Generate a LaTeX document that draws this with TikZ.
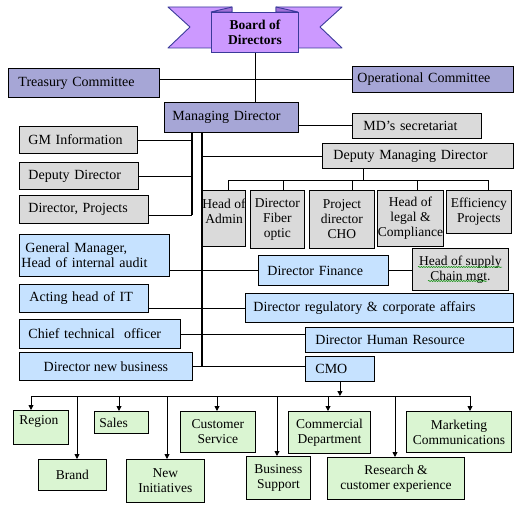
\documentclass[tikz,border=0pt]{standalone}
\usepackage{fontspec}
\setmainfont{Liberation Serif}
\usetikzlibrary{arrows.meta, positioning, decorations.pathmorphing}
\definecolor{ribbon}{HTML}{CC99FF}
\definecolor{ribbonline}{HTML}{3A3A9A}
\definecolor{ribbonfold}{HTML}{A070D8}
\definecolor{lavender}{HTML}{A6A6D6}
\definecolor{greybox}{HTML}{DADADA}
\definecolor{bluebox}{HTML}{C6E2FF}
\definecolor{greenbox}{HTML}{DAF5D2}

\begin{document}
\begin{tikzpicture}[x=1pt, y=-1pt,
    unit/.style={rectangle, draw=black, line width=0.9pt, fill=#1, anchor=north west, inner sep=2pt, font=\fontsize{14}{15}\selectfont},
    unit/.default=greybox,
    wl/.style n args={3}{minimum width=#1pt, minimum height=#2pt, inner xsep=#3pt, text width=#1pt-2*#3pt, align=left},
    wc/.style 2 args={minimum width=#1pt, minimum height=#2pt, align=center},
    small/.style={inner xsep=0pt, font=\fontsize{13.5}{15}\selectfont},
    tail/.style={fill=#1, draw=ribbonline, line width=0.9pt, line join=round},
    link/.style={line width=0.9pt},
    trunk/.style={line width=1.9pt},
    leftcol/.style={line width=1.3pt},
    arrow/.style={-{Triangle[length=5pt, width=5pt]}, line width=0.9pt},
    squiggle/.style={green!55!black, line width=0.5pt, decorate, decoration={snake, amplitude=0.6pt, segment length=2.5pt}}
]
\useasboundingbox (0,0) rectangle (519,508);

% board ribbon
\draw[tail=ribbon] (168,7) -- (232,7) -- (232,48) -- (168,48) -- (190,27) -- cycle;
\draw[tail=ribbon] (276,7) -- (342,7) -- (320,27) -- (342,48) -- (276,48) -- cycle;
\draw[tail=ribbonfold] (211,12) -- (232,7) -- (232,12) -- cycle;
\draw[tail=ribbonfold] (276,7) -- (298,12) -- (276,12) -- cycle;
\node[unit=ribbon, draw=ribbonline, wc={87}{40}, font=\bfseries\fontsize{13.5}{15}\selectfont] (board) at (211,12) {Board of\\Directors};

% committees and MD
\node[unit=lavender, wl={151}{29}{10}] (treasury) at (8,68) {Treasury Committee};
\node[unit=lavender, wl={161}{26}{5}] (opcom) at (352,66) {Operational Committee};
\node[unit=lavender, wl={134}{30}{8}] (md) at (164,102) {Managing Director};
\node[unit, wl={129}{25}{11}] (mdsec) at (352,113) {MD’s secretariat};

% grey staff boxes
\node[unit, wl={118}{27}{9}] (gminfo) at (19,126) {GM Information};
\node[unit, wl={119}{27}{9}] (deputy) at (19,162) {Deputy Director};
\node[unit, wl={129}{28}{9}] (dirproj) at (19,195) {Director, Projects};
\node[unit, wl={191}{25}{11}] (dmd) at (322,143) {Deputy Managing Director};
\node[unit, small, wc={43}{56}] (admin) at (202,190) {Head of\\Admin\\\mbox{}};
\node[unit, small, wc={54}{58}] (fiber) at (250,190) {Director\\Fiber\\optic};
\node[unit, small, wc={65}{58}] (cho) at (309,190) {Project\\director\\CHO};
\node[unit, small, wc={66}{56}] (legal) at (377,190) {Head of\\legal \&\\Compliance};
\node[unit, small, wc={65}{43}] (eff) at (446,190) {Efficiency\\Projects};

% blue directors
\node[unit=bluebox, wl={150}{42}{2}] (gmaudit) at (19,234) {\hspace{4pt}General Manager,\\Head of internal audit};
\node[unit=bluebox, wl={130}{30}{9}] (fin) at (258,255) {Director Finance};
\node[unit, small, wc={96}{42}] (supply) at (412,248) {Head of supply\\Chain mgt.};
\node[unit=bluebox, wl={129}{28}{10}] (actit) at (19,284) {Acting head of IT};
\node[unit=bluebox, wl={268}{29}{8}] (reg) at (245,293) {Director regulatory \& corporate affairs};
\node[unit=bluebox, wl={161}{29}{9}] (cto) at (19,319) {Chief technical~ officer};
\node[unit=bluebox, wl={208}{25}{10}] (hr) at (305,327) {Director Human Resource};
\node[unit=bluebox, wc={173}{28}] (dnb) at (19,352) {Director new business};
\node[unit=bluebox, wl={69}{25}{10}] (cmo) at (305,356) {CMO};

% green CMO units
\node[unit=greenbox, small, wl={55}{34}{6}] (region) at (13,410) {Region\\\mbox{}};
\node[unit=greenbox, small, wl={54}{22}{5}] (sales) at (94,411) {Sales};
\node[unit=greenbox, small, wc={75}{41}] (cserv) at (180,411) {Customer\\Service};
\node[unit=greenbox, small, wc={82}{42}] (comm) at (288,411) {Commercial\\Department};
\node[unit=greenbox, small, wc={105}{41}] (mkt) at (406,411) {Marketing\\Communications};
\node[unit=greenbox, small, wc={68}{31}] (brand) at (38,459) {Brand};
\node[unit=greenbox, small, wc={78}{43}] (newini) at (126,459) {New\\Initiatives};
\node[unit=greenbox, small, wc={64}{43}] (bsupp) at (246,456) {Business\\Support};
\node[unit=greenbox, small, wc={137}{42}] (research) at (327,457) {Research \&\\customer experience};

% spell-check marks
\draw[squiggle] (418,267) -- (502,267);
\draw[squiggle] (428,281) -- (487,281);

% connectors
\coordinate (tk) at (202,0);
\coordinate (lc) at (192,0);
\coordinate (dpj) at ([yshift=-6pt]dirproj.east);
\coordinate (dbus) at (363,180);
\coordinate (bus) at (0,396);

\draw[link] (board.south) -- (board.south |- md.north);
\draw[link] (treasury.east |- opcom.west) -- (opcom.west);
\draw[link] (md.east |- mdsec.west) -- (mdsec.west);

\draw[leftcol] (md.south -| lc) -- (dpj -| lc);
\draw[link] (gminfo.east) -- (gminfo.east -| lc);
\draw[link] (deputy.east) -- (deputy.east -| lc);
\draw[link] (dpj) -- (dpj -| lc);

\draw[trunk] (md.south -| tk) -- (dnb.east -| tk);
\draw[link] (dmd.west -| tk) -- (dmd.west);
\draw[link] (dmd.south -| dbus) -- (dbus);
\draw[link] (dbus -| 228,0) -- (dbus -| 488,0);
\foreach \n/\x in {admin/228, fiber/283, cho/352, legal/417, eff/488}
  \draw[link] (dbus -| \x,0) -- (\n.north -| \x,0);

\draw[link] (gmaudit.east |- fin.west) -- (fin.west);
\draw[link] (fin.east) -- (fin.east -| supply.west);
\draw[link] (actit.east |- reg.west) -- (reg.west);
\draw[link] (cto.east) -- (cto.east -| hr.west);
\draw[link] (dnb.east) -- (dnb.east -| cmo.west);

\draw[arrow] (cmo.south) -- (cmo.south |- bus);
\draw[link] (bus -| 31,0) -- (bus -| 471,0);
\foreach \n/\x in {region/31, brand/77, sales/119, newini/167, cserv/217, bsupp/277, comm/328, research/395, mkt/470}
  \draw[arrow] (bus -| \x,0) -- (\n.north -| \x,0);
\end{tikzpicture}
\end{document}
